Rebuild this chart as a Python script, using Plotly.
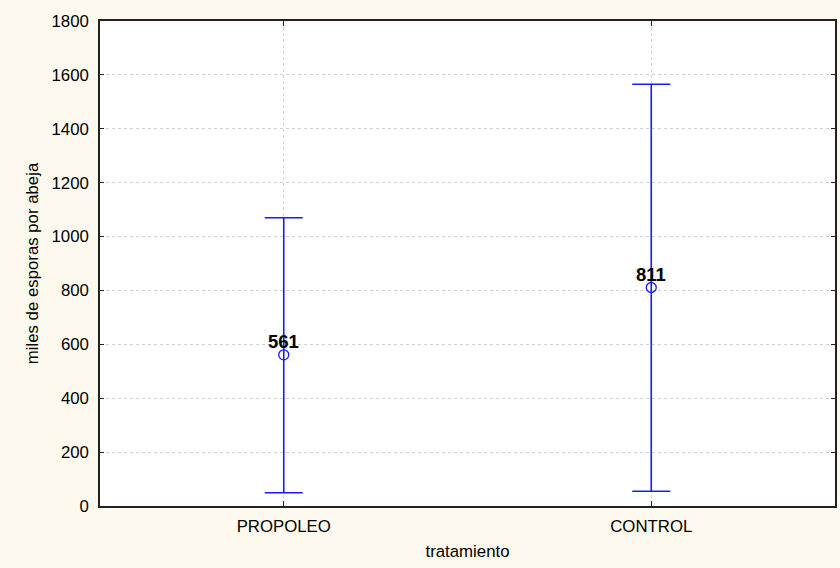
import plotly.graph_objects as go

# Treatment groups and spore counts (thousands per bee)
tratamientos = ["PROPOLEO", "CONTROL"]
medias = [561, 811]
limite_superior = [1070, 1565]
limite_inferior = [49, 55]
y_ticks = [0, 200, 400, 600, 800, 1000, 1200, 1400, 1600, 1800]

err_plus = [u - m for u, m in zip(limite_superior, medias)]
err_minus = [m - l for m, l in zip(medias, limite_inferior)]

azul = "#1a1aff"
fuente = "Liberation Sans, Arial, sans-serif"

fig = go.Figure()
fig.add_trace(go.Scatter(
    x=tratamientos,
    y=medias,
    mode="markers",
    marker=dict(symbol="circle-open", size=10, color=azul, line=dict(width=1.3, color=azul)),
    error_y=dict(type="data", symmetric=False, array=err_plus, arrayminus=err_minus,
                 color=azul, thickness=1.6, width=19),
    showlegend=False,
))

# Mean value labels just above each marker
for t, m in zip(tratamientos, medias):
    fig.add_annotation(
        x=t, y=m, text=f"<b>{m}</b>", showarrow=False,
        yanchor="middle", yshift=13,
        font=dict(family=fuente, size=18.5, color="black"),
    )

fig.update_layout(
    width=840, height=568,
    margin=dict(l=100, r=3, t=21, b=62),
    paper_bgcolor="#fef9ee",
    plot_bgcolor="white",
    font=dict(family=fuente, size=16.8, color="black"),
    xaxis=dict(
        range=[-0.5, 1.5],
        showline=True, linecolor="#222", linewidth=1.5, mirror="ticks",
        ticks="inside", ticklen=5, tickcolor="#222",
        showgrid=True, gridcolor="#cfcfcf", griddash="dot", gridwidth=1,
        zeroline=False,
        tickfont=dict(size=16.8),
        ticklabelstandoff=4,
        title=dict(text="tratamiento", font=dict(size=16.8), standoff=10),
    ),
    yaxis=dict(
        range=[0, 1800],
        tickvals=y_ticks,
        showline=True, linecolor="#222", linewidth=1.5, mirror="ticks",
        ticks="inside", ticklen=4, tickcolor="#222",
        showgrid=True, gridcolor="#cfcfcf", griddash="dot", gridwidth=1,
        zeroline=False,
        tickfont=dict(size=16.8),
        ticklabelstandoff=6,
        title=dict(text="miles de esporas por abeja", font=dict(size=16.8), standoff=9),
    ),
)

fig.write_html("out.html")
